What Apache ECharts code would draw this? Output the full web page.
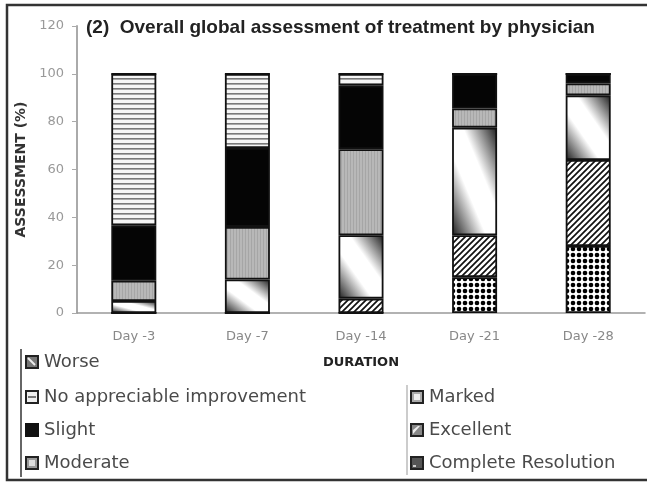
<!DOCTYPE html>
<html><head><meta charset="utf-8">
<script src="https://cdn.jsdelivr.net/npm/echarts@6/dist/echarts.min.js"></script>
<style>html,body{margin:0;padding:0;background:#fff}#c{width:647px;height:482px}</style>
</head><body><div id="c"></div>
<script>
// ---- data ----
const categories = ['Day -3', 'Day -7', 'Day -14', 'Day -21', 'Day -28'];
const completeResolution = [0, 0, 0, 15, 28];
const excellent = [0, 0, 6, 17.5, 36];
const marked = [5, 14, 26.5, 45, 27];
const moderate = [8.5, 22, 36, 8, 5];
const slight = [23, 33, 26.5, 14.5, 4];
const noImprovement = [63.5, 31, 5, 0, 0];
const worse = [0, 0, 0, 0, 0];
const yTickMin = 0, yTickMax = 120, yTickStep = 20;
const titleText = '(2)  Overall global assessment of treatment by physician';

// ---- styles ----
function tile(w, h, draw) { const c = document.createElement('canvas'); c.width = w; c.height = h; const g = c.getContext('2d'); draw(g); return c; }
const patStripes = tile(4, 5, g => { g.fillStyle = '#f6f6f6'; g.fillRect(0, 0, 4, 5); g.fillStyle = '#7a7a7a'; g.fillRect(0, 3, 4, 1); g.fillStyle = '#a8a8a8'; g.fillRect(0, 4, 4, 1); });
const patModerate = tile(3, 4, g => { g.fillStyle = '#b8b8b8'; g.fillRect(0, 0, 3, 4); g.fillStyle = '#a6a6a6'; g.fillRect(2, 0, 1, 4); });
const patHatch = tile(6, 6, g => { g.fillStyle = '#fff'; g.fillRect(0, 0, 6, 6); g.strokeStyle = '#111'; g.lineWidth = 1.7; g.beginPath(); g.moveTo(-1, 7); g.lineTo(7, -1); g.moveTo(-1, 1); g.lineTo(1, -1); g.moveTo(5, 7); g.lineTo(7, 5); g.stroke(); });
const patDots = tile(6, 6, g => { g.fillStyle = '#fff'; g.fillRect(0, 0, 6, 6); g.fillStyle = '#000'; g.beginPath(); g.arc(3, 3, 2.3, 0, Math.PI * 2); g.fill(); });

function icon(draw) { return 'image://' + tile(14, 14, draw).toDataURL(); }
const icons = {
  'Worse': icon(g => { g.fillStyle = '#222'; g.fillRect(0, 0, 14, 14); g.fillStyle = '#777'; g.fillRect(2, 2, 10, 10); g.strokeStyle = '#eee'; g.lineWidth = 2; g.beginPath(); g.moveTo(3, 3); g.lineTo(10, 10); g.stroke(); }),
  'No appreciable improvement': icon(g => { g.fillStyle = '#222'; g.fillRect(0, 0, 14, 14); g.fillStyle = '#eee'; g.fillRect(2, 2, 10, 10); g.fillStyle = '#777'; g.fillRect(3, 6, 8, 2); }),
  'Slight': icon(g => { g.fillStyle = '#111'; g.fillRect(0, 0, 14, 14); }),
  'Moderate': icon(g => { g.fillStyle = '#222'; g.fillRect(0, 0, 14, 14); g.fillStyle = '#999'; g.fillRect(2, 2, 10, 10); g.fillStyle = '#ddd'; g.fillRect(4, 4, 6, 6); }),
  'Marked': icon(g => { g.fillStyle = '#222'; g.fillRect(0, 0, 14, 14); g.fillStyle = '#aaa'; g.fillRect(2, 2, 10, 10); g.fillStyle = '#eee'; g.fillRect(4, 4, 6, 6); }),
  'Excellent': icon(g => { g.fillStyle = '#222'; g.fillRect(0, 0, 14, 14); g.fillStyle = '#888'; g.fillRect(2, 2, 10, 10); g.fillStyle = '#eee'; g.beginPath(); g.moveTo(3, 11); g.lineTo(3, 7); g.lineTo(8, 3); g.lineTo(10, 3); g.closePath(); g.fill(); }),
  'Complete Resolution': icon(g => { g.fillStyle = '#222'; g.fillRect(0, 0, 14, 14); g.fillStyle = '#555'; g.fillRect(2, 2, 10, 10); g.fillStyle = '#ccc'; g.fillRect(3, 9, 3, 2); })
};
const legendLayout = [
  ['Worse', 25, 362], ['No appreciable improvement', 25, 397], ['Slight', 25, 430], ['Moderate', 25, 463],
  ['Marked', 410, 397], ['Excellent', 410, 430], ['Complete Resolution', 410, 463]
];

const chart = echarts.init(document.getElementById('c'), null, { renderer: 'canvas' });
const barBase = { type: 'bar', stack: 'total', barWidth: 45, itemStyle: { borderColor: '#111', borderWidth: 1.8 } };
function withColor(c) { return Object.assign({}, barBase.itemStyle, { color: c }); }

chart.setOption({
  animation: false,
  backgroundColor: '#fff',
  title: { text: titleText, left: 86, top: 18, padding: 0,
    textStyle: { fontFamily: 'Liberation Sans', fontWeight: 'bold', fontSize: 19, color: '#222' } },
  grid: { left: 77, right: 2, top: 26, bottom: 169, containLabel: false },
  legend: legendLayout.map(([n, l, cy]) => ({
    data: [{ name: n, icon: icons[n] }], left: l, top: cy - 10, padding: 0, itemWidth: 14, itemHeight: 14,
    selectedMode: false,
    textStyle: { fontFamily: 'DejaVu Sans', fontSize: 18, color: '#4a4a4a', lineHeight: 20 }
  })),
  xAxis: {
    type: 'category', data: categories,
    name: 'DURATION', nameLocation: 'middle', nameGap: 43,
    nameTextStyle: { fontFamily: 'DejaVu Sans', fontWeight: 'bold', fontSize: 13, color: '#222' },
    axisLine: { lineStyle: { color: '#999', width: 1.5 } },
    axisTick: { length: 4, lineStyle: { color: '#999' } },
    axisLabel: { fontFamily: 'DejaVu Sans', fontSize: 13, color: '#888', margin: 17 }
  },
  yAxis: {
    type: 'value', min: yTickMin, max: yTickMax, interval: yTickStep,
    name: 'ASSESSMENT (%)', nameLocation: 'middle', nameRotate: 90, nameGap: 46,
    nameTextStyle: { fontFamily: 'DejaVu Sans', fontWeight: 'bold', fontSize: 14, color: '#333' },
    axisLine: { show: true, lineStyle: { color: '#aaa', width: 2 } },
    axisTick: { show: true, length: 5, lineStyle: { color: '#aaa' } },
    splitLine: { show: false },
    axisLabel: { fontFamily: 'DejaVu Sans', fontSize: 13, color: '#999', margin: 13 }
  },
  graphic: [
    { type: 'rect', shape: { x: 7, y: 5, width: 700, height: 475 }, style: { fill: 'none', stroke: '#333', lineWidth: 2.5 }, z: 100 },
    { type: 'line', shape: { x1: 21, y1: 349, x2: 21, y2: 477 }, style: { stroke: '#666', lineWidth: 2 } },
    { type: 'line', shape: { x1: 407, y1: 385, x2: 407, y2: 475 }, style: { stroke: '#999', lineWidth: 1 } }
  ],
  series: [
    Object.assign({}, barBase, { name: 'Complete Resolution', data: completeResolution, itemStyle: withColor({ image: patDots, repeat: 'repeat' }) }),
    Object.assign({}, barBase, { name: 'Excellent', data: excellent, itemStyle: withColor({ image: patHatch, repeat: 'repeat' }) }),
    Object.assign({}, barBase, { name: 'Marked', data: marked, itemStyle: withColor('#eee') }),
    Object.assign({}, barBase, { name: 'Moderate', data: moderate, itemStyle: withColor({ image: patModerate, repeat: 'repeat' }) }),
    Object.assign({}, barBase, { name: 'Slight', data: slight, itemStyle: withColor('#050505') }),
    Object.assign({}, barBase, { name: 'No appreciable improvement', data: noImprovement, itemStyle: withColor({ image: patStripes, repeat: 'repeat' }) }),
    Object.assign({}, barBase, { name: 'Worse', data: worse, itemStyle: withColor('#333') })
  ]
});

// diagonal shading for "Marked": white band along the bar's main diagonal, dark towards the other corners
const y0 = chart.convertToPixel({ yAxisIndex: 0 }, 0);
const w = 45;
const markedData = marked.map(v => {
  const h = Math.max(1, Math.abs(y0 - chart.convertToPixel({ yAxisIndex: 0 }, v)));
  const L2 = w * w + h * h;
  return { value: v, itemStyle: { color: new echarts.graphic.LinearGradient(1, 0, 1 - 2 * h * h / L2, 2 * w * w / L2, [
    { offset: 0, color: '#1a1a1a' }, { offset: 0.38, color: '#fff' }, { offset: 0.62, color: '#fff' }, { offset: 1, color: '#1a1a1a' }
  ]) } };
});
chart.setOption({ series: [{}, {}, { data: markedData }] });
</script>
</body></html>
